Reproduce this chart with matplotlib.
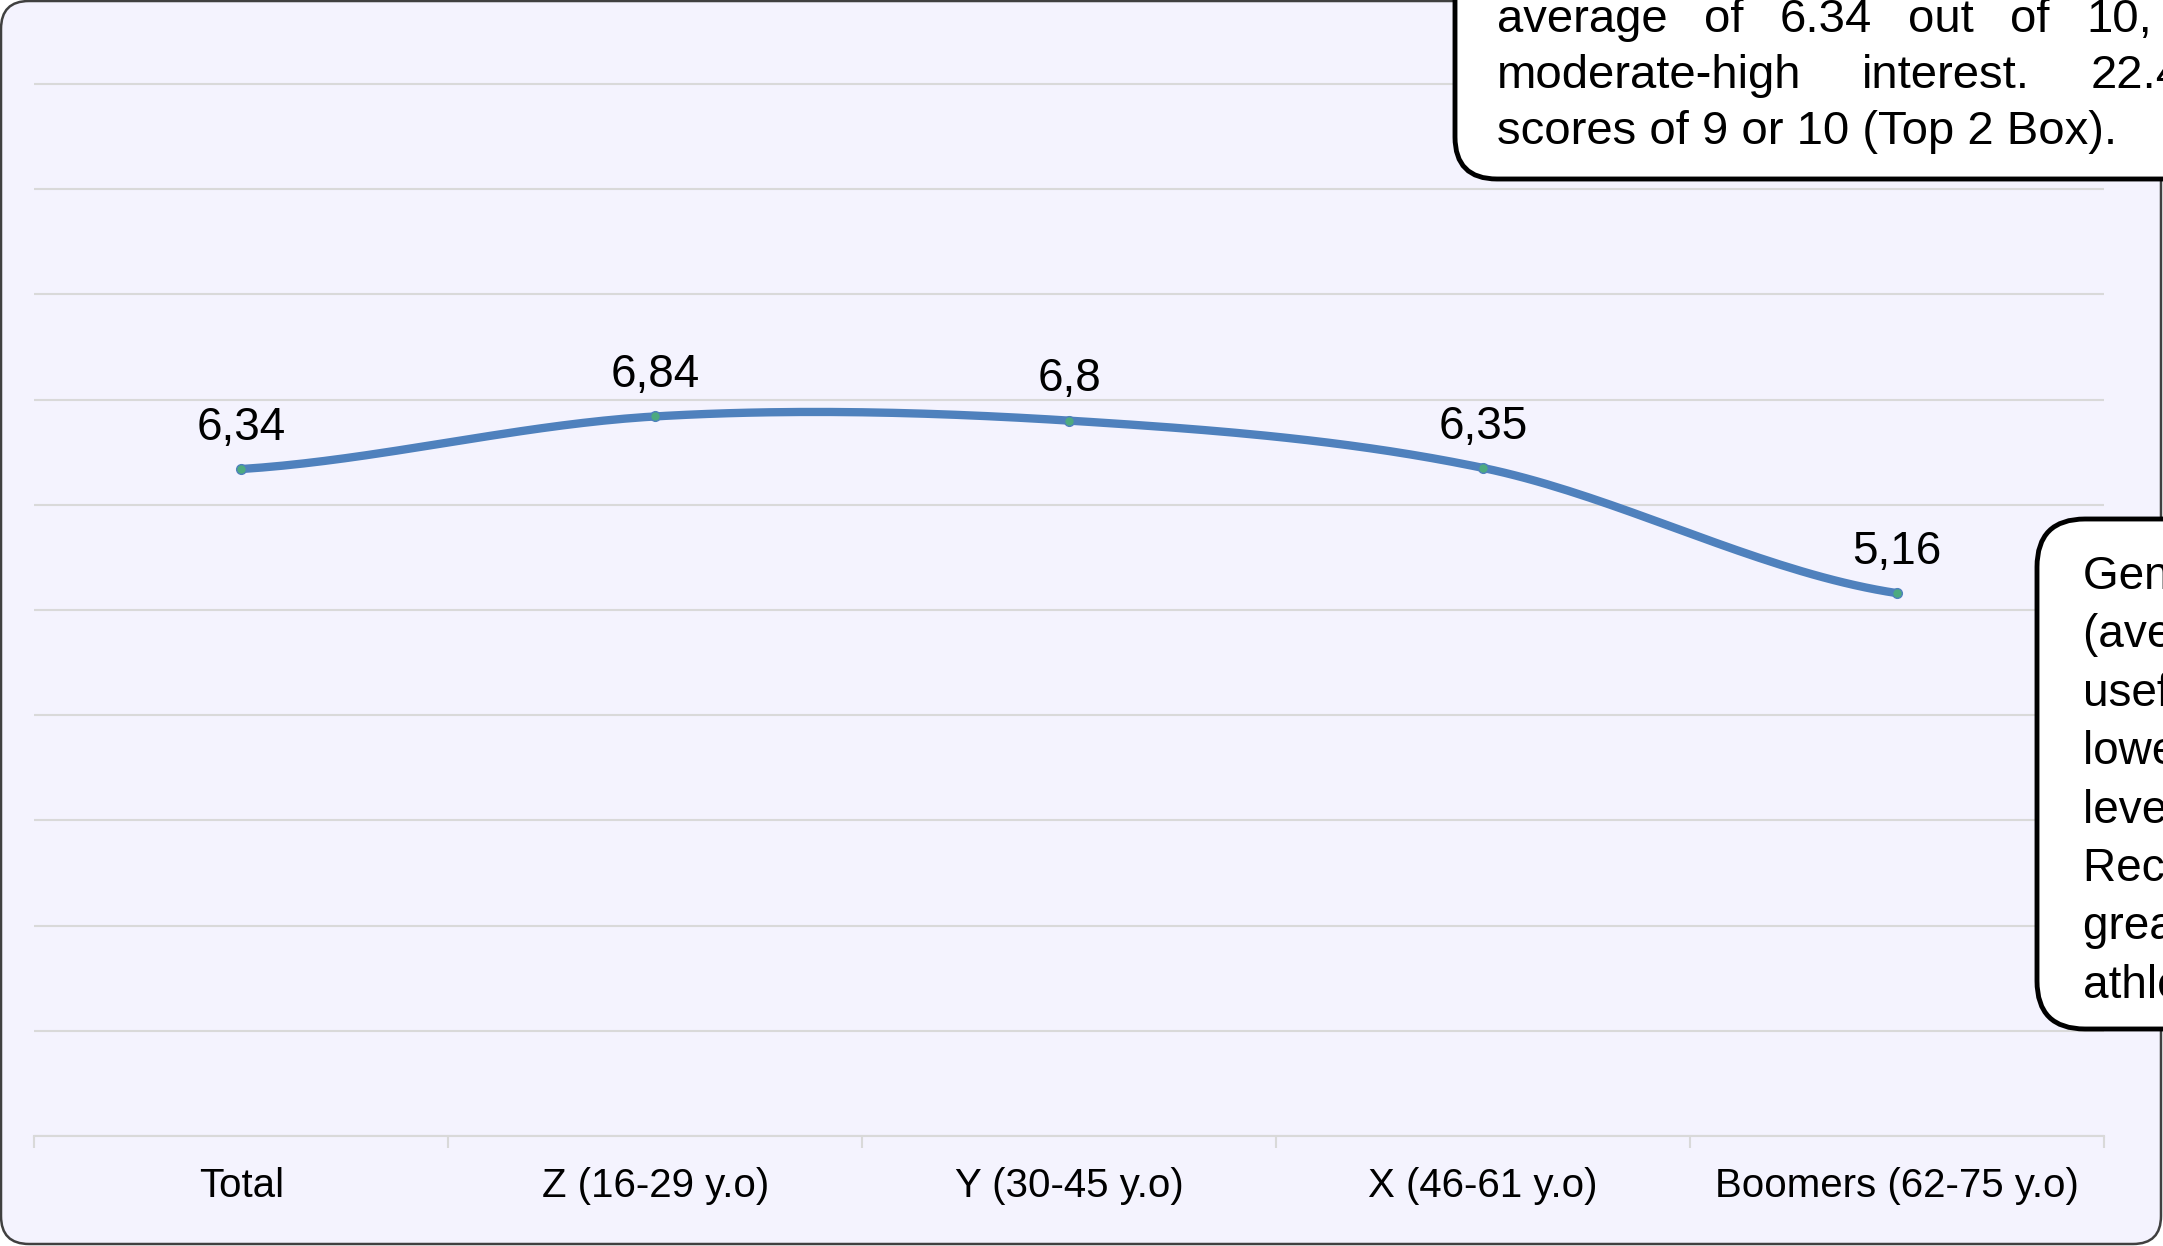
import numpy as np
import matplotlib.pyplot as plt
from matplotlib.patches import FancyBboxPatch
from matplotlib.transforms import IdentityTransform

plt.rcParams['font.family'] = ['Liberation Sans', 'DejaVu Sans']

# data
categories = ['Total', 'Z (16-29 y.o)', 'Y (30-45 y.o)', 'X (46-61 y.o)', 'Boomers (62-75 y.o)']
scores = [6.34, 6.84, 6.8, 6.35, 5.16]

top_note = [
    'The total sample gives an',
    'average of 6.34 out of 10, indicating',
    'moderate-high interest. 22.4% gave',
    'scores of 9 or 10 (Top 2 Box).',
]
side_note = [
    'Generation Z shows the highest',
    '(average 6.84), finding the app',
    'useful, while Boomers show the',
    'lowest (5.16), a moderate',
    'level of interest.',
    'Recommendation: focus on',
    'greater engagement with young',
    'athletes.',
]

W, H, DPI = 2163, 1246, 100
ident = IdentityTransform()


def catmull_rom(xs, ys, steps=40):
    # smooth line through the points, like the spreadsheet "smoothed line"
    p = np.r_[ys[0], ys, ys[-1]]
    out_x, out_y = [], []
    for i in range(len(xs) - 1):
        t = np.linspace(0, 1, steps, endpoint=(i == len(xs) - 2))
        p0, p1, p2, p3 = p[i], p[i + 1], p[i + 2], p[i + 3]
        m1, m2 = (p2 - p0) / 2, (p3 - p1) / 2
        h00 = 2 * t**3 - 3 * t**2 + 1
        h10 = t**3 - 2 * t**2 + t
        h01 = -2 * t**3 + 3 * t**2
        h11 = t**3 - t**2
        out_x.append(xs[i] + t * (xs[i + 1] - xs[i]))
        out_y.append(h00 * p1 + h10 * m1 + h01 * p2 + h11 * m2)
    return np.concatenate(out_x), np.concatenate(out_y)


fig = plt.figure(figsize=(W / DPI, H / DPI), dpi=DPI, facecolor='white')


def px_box(x0, y_top, x1, y_bottom, **kw):
    # box given in pixels measured from the top-left corner
    p = FancyBboxPatch((x0, H - y_bottom), x1 - x0, y_bottom - y_top,
                       transform=ident, mutation_scale=1, **kw)
    fig.patches.append(p)


# rounded chart background
px_box(1, 1, W - 2, H - 2, boxstyle='round,pad=0,rounding_size=28',
       fc='#F4F3FE', ec='#404040', lw=1.8, zorder=-5)

ax = fig.add_axes([0.01595, 0.0883, 0.9568, 0.8865])
ax.patch.set_visible(False)

x = np.arange(len(categories))
sx, sy = catmull_rom(x, np.array(scores))
ax.plot(sx, sy, color='#4F81BD', lw=6, solid_capstyle='round', zorder=3)
ax.plot(x, scores, 'o', ms=7, mfc='#4DAA80', mec='#4F81BD', mew=1, zorder=4)

for i, v in enumerate(scores):
    ax.annotate(str(v).replace('.', ','), (i, v), xytext=(0, 21),
                textcoords='offset points', ha='center', va='baseline',
                fontsize=33, color='black')

ax.set_xlim(-0.5, len(categories) - 0.5)
ax.set_ylim(0, 10.5)
ax.set_yticks(range(0, 11))
ax.yaxis.grid(True, color='#D9D9D9', lw=1.5)
ax.set_axisbelow(True)
ax.tick_params(axis='y', length=0, labelleft=False)

ax.set_xticks(x, categories, fontsize=29)
ax.set_xticks(np.arange(-0.5, len(categories)), minor=True)
ax.tick_params(axis='x', which='major', length=0, pad=22)
ax.tick_params(axis='x', which='minor', length=8.5, width=1.5, color='#D9D9D9')

for side in ['left', 'right', 'top']:
    ax.spines[side].set_visible(False)
ax.spines['bottom'].set_color('#D9D9D9')
ax.spines['bottom'].set_linewidth(1.5)

# callout boxes (they run off the edge of the picture)
px_box(1455, -120, W + 150, 179, boxstyle='round,pad=0,rounding_size=42',
       fc='white', ec='black', lw=3.5, zorder=2)
px_box(2037, 519, W + 150, 1029, boxstyle='round,pad=0,rounding_size=48',
       fc='white', ec='black', lw=3.5, zorder=2)

renderer = fig.canvas.get_renderer()
note_size = 34


def justified(lines, x0, base0, step, width):
    for k, line in enumerate(lines):
        y = H - (base0 + k * step)
        words = line.split()
        if k == len(lines) - 1:
            fig.text(x0, y, line, transform=ident, fontsize=note_size,
                     va='baseline', ha='left', zorder=6)
            continue
        widths = []
        for w in words:
            t = fig.text(0, 0, w, fontsize=note_size)
            widths.append(t.get_window_extent(renderer).width)
            t.remove()
        gap = (width - sum(widths)) / (len(words) - 1)
        xx = x0
        for w, wd in zip(words, widths):
            fig.text(xx, y, w, transform=ident, fontsize=note_size,
                     va='baseline', ha='left', zorder=6)
            xx += wd + gap


justified(top_note, 1497, -24, 56, 890)

for k, line in enumerate(side_note):
    fig.text(2083, H - (589 + k * 58.4), line, transform=ident,
             fontsize=33, va='baseline', ha='left', zorder=6)

fig.savefig('out.png', dpi=DPI, facecolor='white')
